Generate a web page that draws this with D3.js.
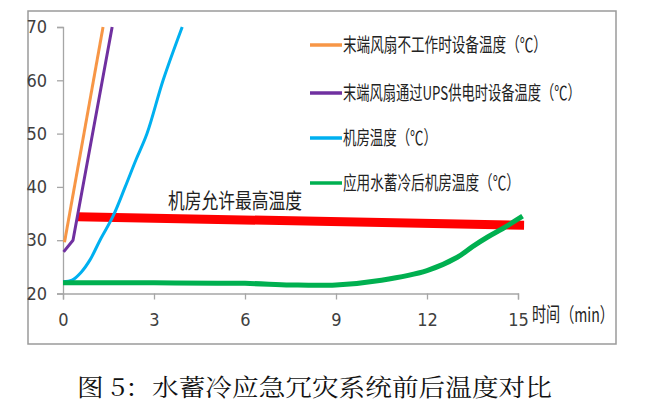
<!DOCTYPE html>
<html><head><meta charset="utf-8">
<script src="https://cdn.jsdelivr.net/npm/d3@7"></script>
<style>body{margin:0;background:#fff}svg{display:block}</style>
</head><body>
<script>
const xTicks = [0, 3, 6, 9, 12, 15];
const yTicks = [20, 30, 40, 50, 60, 70];
const seriesNames = ["末端风扇不工作时设备温度（℃）", "末端风扇通过UPS供电时设备温度（℃）", "机房温度（℃）", "应用水蓄冷后机房温度（℃）"];
const seriesColors = ["#f79646", "#7030a0", "#00b0f0", "#00b050"];
const fanOff = [[0.05, 29.6], [1.32, 70]];
const fanUps = [[0.02, 27.8], [0.33, 30], [1.62, 70]];
const roomTemp = [[0, 22.2], [0.3, 22.5], [0.6, 24], [0.9, 26.4], [1.22, 30], [1.65, 34.5], [2.05, 40], [2.4, 45], [2.77, 50], [3.3, 60], [3.93, 70]];
const coolTemp = [[0, 22], [3, 22], [6, 21.9], [7.5, 21.6], [9, 21.6], [10.5, 22.5], [12, 24.3], [13, 26.8], [13.5, 28.8], [14, 30.6], [14.5, 32.2], [15.15, 34.5]];
const maxAllowed = [[0.47, 34.4], [15.2, 32.8]];
const maxLabel = "机房允许最高温度";
const xTitle = "时间（min）";
const caption = "图 5：水蓄冷应急冗灾系统前后温度对比";

const W = 646, H = 402;
const svg = d3.select("body").append("svg").attr("width", W).attr("height", H);
const x = d3.scaleLinear().domain([0, 15]).range([63, 518]);
const y = d3.scaleLinear().domain([20, 70]).range([293.5, 27]);

svg.append("rect").attr("x", 28).attr("y", 11).attr("width", 588).attr("height", 333)
  .attr("fill", "none").style("stroke", "#9a9a9a").style("stroke-width", "1.5px");

const xAxis = svg.append("g").attr("transform", `translate(0,${y(20)})`)
  .call(d3.axisBottom(x).tickValues(xTicks).tickSize(6).tickPadding(14).tickFormat(d3.format("d")));
const yAxis = svg.append("g").attr("transform", `translate(${x(0)},0)`)
  .call(d3.axisLeft(y).tickValues(yTicks).tickSize(6).tickPadding(10).tickFormat(d3.format("d")));
[xAxis, yAxis].forEach(g => {
  g.select(".domain").style("stroke", "#a6a6a6").style("stroke-width", "1.3px");
  g.selectAll(".tick line").style("stroke", "#a6a6a6").style("stroke-width", "1.3px");
  g.selectAll("text").attr("fill", "#404040").style("font-family", "'Liberation Sans Narrow','DejaVu Sans Condensed',sans-serif").style("font-size", "18px");
});

const line = d3.line().x(d => x(d[0])).y(d => y(d[1]));
const smooth = d3.line().x(d => x(d[0])).y(d => y(d[1])).curve(d3.curveCatmullRom);

svg.append("path").datum(maxAllowed).attr("d", line).attr("fill", "none")
  .attr("stroke", "#ff0000").attr("stroke-width", 9);

const data = [fanOff, fanUps, roomTemp, coolTemp];
const widths = [3, 3, 3, 5];
data.forEach((d, i) => {
  svg.append("path").datum(d).attr("d", i >= 2 ? smooth : line).attr("fill", "none")
    .attr("stroke", seriesColors[i]).attr("stroke-width", widths[i])
    .attr("stroke-linejoin", "round");
});

// squeezed text helper: place text at (x0,y0) and scale horizontally to target width
function squeezed(str, x0, y0, target, size, family, color) {
  const g = svg.append("g");
  const t = g.append("text").attr("x", 0).attr("y", 0).attr("dy", "0.36em").text(str)
    .style("font-family", family).style("font-size", size + "px").attr("fill", color);
  const natural = t.node().getComputedTextLength();
  const s = natural > 0 ? target / natural : 1;
  g.attr("transform", `translate(${x0},${y0}) scale(${s},1)`);
  return g;
}

const cjk = "'Noto Sans CJK SC',sans-serif";
squeezed(maxLabel, 168, 200, 134, 21, cjk, "#222");

const legY = [45, 93, 138, 183];
const legW = [204, 238, 94, 177];
seriesNames.forEach((n, i) => {
  svg.append("line").attr("x1", 310).attr("x2", 342).attr("y1", legY[i]).attr("y2", legY[i])
    .attr("stroke", seriesColors[i]).attr("stroke-width", 3.5);
  squeezed(n, 343, legY[i], legW[i], 19, cjk, "#222");
});

squeezed(xTitle, 532, 315, 82, 20, cjk, "#222");
squeezed(caption, 77, 387, 475, 24, "'Noto Serif CJK SC','Noto Sans CJK SC',serif", "#111");
</script>
</body></html>
